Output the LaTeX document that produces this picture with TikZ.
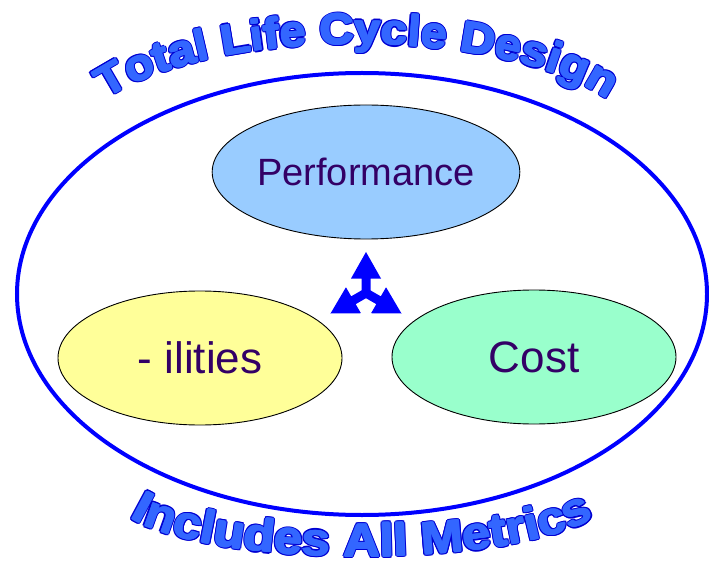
\documentclass[tikz,border=0pt]{standalone}
\usepackage{fontspec}
\setmainfont{Liberation Sans}
\newfontfamily\archfont{Liberation Sans}[FakeStretch=1.1]
\usetikzlibrary{shapes.geometric,decorations.text}
\definecolor{ringblue}{RGB}{0,0,255}
\definecolor{archfill}{RGB}{51,102,255}
\definecolor{archline}{RGB}{0,0,210}
\definecolor{perfill}{RGB}{153,204,255}
\definecolor{ilifill}{RGB}{255,255,153}
\definecolor{costfill}{RGB}{153,255,204}
\definecolor{txtpurple}{RGB}{51,0,102}
\newcommand\TopArchFont{\archfont\bfseries\fontsize{43pt}{43pt}\selectfont}
\newcommand\BotArchFont{\archfont\bfseries\fontsize{46pt}{46pt}\selectfont}
\begin{document}
\begin{tikzpicture}[x=1pt,y=1pt,
  oval/.style={ellipse, draw=black, line width=0.9pt, minimum width=284pt,
    minimum height=134pt, inner sep=0pt, text=txtpurple},
  ring/.style={ellipse, draw=ringblue, line width=4pt, minimum width=690pt,
    minimum height=442pt, inner sep=0pt},
  toptext/.style={decorate, decoration={text along path, text align=center,
    text color=#1, text={|\TopArchFont|Total Life Cycle Design}}},
  bottext/.style={decorate, decoration={text along path, text align=center,
    text color=#1, text={|\BotArchFont|Includes All Metrics}}}]
\useasboundingbox (0,0) rectangle (709,563);

% outer ring
\node[ring] (ringnode) at (362,269) {};

% three ellipses
\node[oval, fill=perfill, font=\fontsize{38pt}{38pt}\selectfont] (perf) at (366,391) {Performance};
\node[oval, fill=ilifill, font=\fontsize{44pt}{44pt}\selectfont] (ili) at (200,205) {- ilities};
\node[oval, fill=costfill, font=\fontsize{44pt}{44pt}\selectfont] (cost) at (534,206) {Cost};

% three-way arrow
\coordinate (hub) at (366,270);
\foreach \a in {90,210,330}
  \fill[ringblue, shift={(hub)}, rotate=\a]
    (0,-4.5) -- (14.5,-4.5) -- (14.5,-15) -- (41,0) -- (14.5,15) -- (14.5,4.5) -- (0,4.5) -- cycle;

% arched titles (baselines: top ellipse arc centred at (357,419), bottom at (362,66.5))
\foreach \ang in {0,30,...,330}{
  \begin{scope}[shift={({1.9*cos(\ang)},{1.9*sin(\ang)})}]
  \path[toptext=archline]
    (77.68,425.98) arc[start angle=176, end angle=4, x radius=280, y radius=100];
  \path[bottext=archline]
    (114.60,62.31) arc[start angle=184, end angle=356, x radius=248, y radius=60];
  \end{scope}
}
\foreach \ang in {0,60,...,300}{
  \begin{scope}[shift={({0.8*cos(\ang)},{0.8*sin(\ang)})}]
  \path[toptext=archfill]
    (77.68,425.98) arc[start angle=176, end angle=4, x radius=280, y radius=100];
  \path[bottext=archfill]
    (114.60,62.31) arc[start angle=184, end angle=356, x radius=248, y radius=60];
  \end{scope}
}
\end{tikzpicture}
\end{document}
